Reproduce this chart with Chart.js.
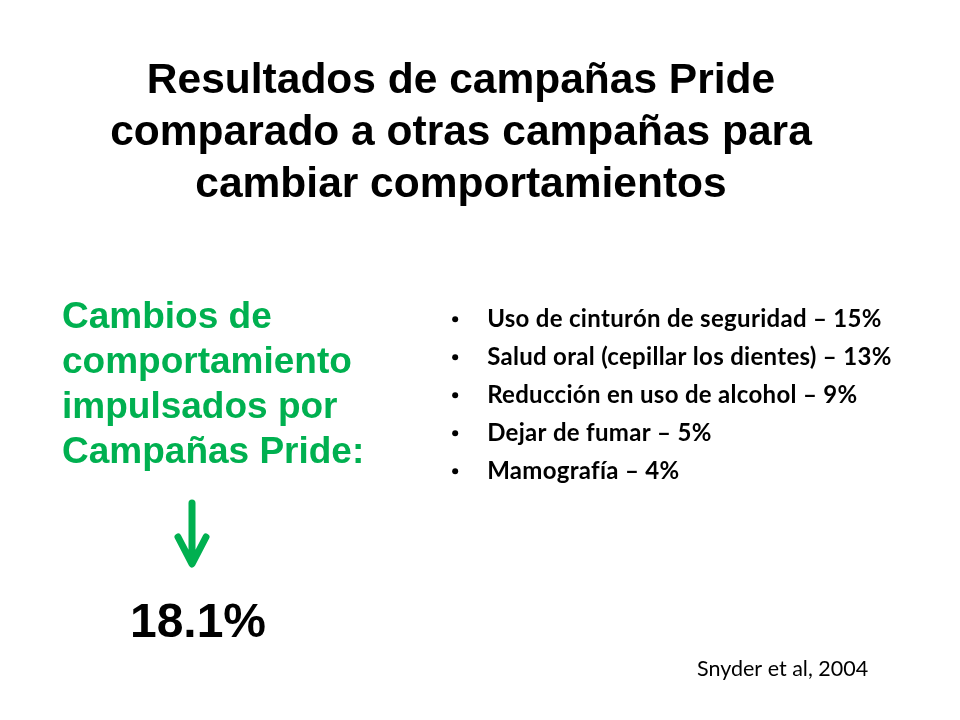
<!DOCTYPE html>
<html>
<head>
<meta charset="utf-8">
<script src="https://cdn.jsdelivr.net/npm/chart.js@4"></script>
<style>
    html, body { margin: 0; padding: 0; background: #ffffff; }
    #wrap { position: relative; width: 960px; height: 720px; }
</style>
</head>
<body>
<div id="wrap"><canvas id="slideChart"></canvas></div>
<script>
// slide data
const titleLines = ['Resultados de campañas Pride', 'comparado a otras campañas para', 'cambiar comportamientos'];
const prideLines = ['Cambios de', 'comportamiento', 'impulsados por', 'Campañas Pride:'];
const prideValue = 18.1;
const campaigns = ['Uso de cinturón de seguridad', 'Salud oral (cepillar los dientes)', 'Reducción en uso de alcohol', 'Dejar de fumar', 'Mamografía'];
const campaignValues = [15, 13, 9, 5, 4];
const sourceNote = 'Snyder et al, 2004';

const green = '#00b050';

// draws the texts next to the bullet points and the left-hand block
const slideText = {
    id: 'slideText',
    afterDatasetsDraw(chart) {
        const ctx = chart.ctx;
        const points = chart.getDatasetMeta(0).data;
        ctx.save();
        ctx.textBaseline = 'alphabetic';

        // title
        ctx.fillStyle = '#000';
        ctx.textAlign = 'center';
        ctx.font = 'bold 42.5px "Liberation Sans", Arial, sans-serif';
        titleLines.forEach((line, i) => ctx.fillText(line, 461, 93 + i * 52));

        // bullet labels
        ctx.textAlign = 'left';
        ctx.font = 'bold 24px Lato, "Open Sans", sans-serif';
        ctx.letterSpacing = '0.3px';
        points.forEach((pt, i) => {
            ctx.fillText(campaigns[i] + ' \u2013 ' + campaignValues[i] + '%', pt.x + 32, pt.y + 8);
        });
        ctx.letterSpacing = '0px';

        // pride block
        ctx.fillStyle = green;
        ctx.font = 'bold 37px "Liberation Sans", Arial, sans-serif';
        prideLines.forEach((line, i) => ctx.fillText(line, 62, 328 + i * 45));

        // arrow
        ctx.strokeStyle = green;
        ctx.lineWidth = 7;
        ctx.lineCap = 'round';
        ctx.lineJoin = 'round';
        ctx.beginPath();
        ctx.moveTo(192, 503);
        ctx.lineTo(192, 563);
        ctx.moveTo(178, 537);
        ctx.lineTo(192, 564);
        ctx.lineTo(206, 537);
        ctx.stroke();

        ctx.fillStyle = '#000';
        ctx.textAlign = 'center';
        ctx.font = 'bold 48px "Liberation Sans", Arial, sans-serif';
        ctx.fillText(prideValue.toFixed(1) + '%', 198, 637);

        // source
        ctx.textAlign = 'left';
        ctx.font = '21.5px Lato, "Open Sans", sans-serif';
        ctx.fillText(sourceNote, 697, 676);
        ctx.restore();
    }
};

new Chart(document.getElementById('slideChart'), {
    type: 'scatter',
    data: {
        datasets: [{
            label: 'Campañas',
            data: campaigns.map((c, i) => ({ x: 0, y: i })),
            pointStyle: 'circle',
            pointRadius: 3,
            pointHoverRadius: 3,
            backgroundColor: '#000',
            borderColor: '#000',
            borderWidth: 0
        }]
    },
    options: {
        responsive: true,
        maintainAspectRatio: false,
        animation: false,
        layout: { padding: 0 },
        plugins: {
            legend: { display: false },
            tooltip: { enabled: false }
        },
        scales: {
            x: { display: false, min: -455, max: 505 },
            y: { display: false, reverse: true, min: -319 / 38.3, max: (720 - 319) / 38.3 }
        }
    },
    plugins: [slideText]
});
</script>
</body>
</html>
